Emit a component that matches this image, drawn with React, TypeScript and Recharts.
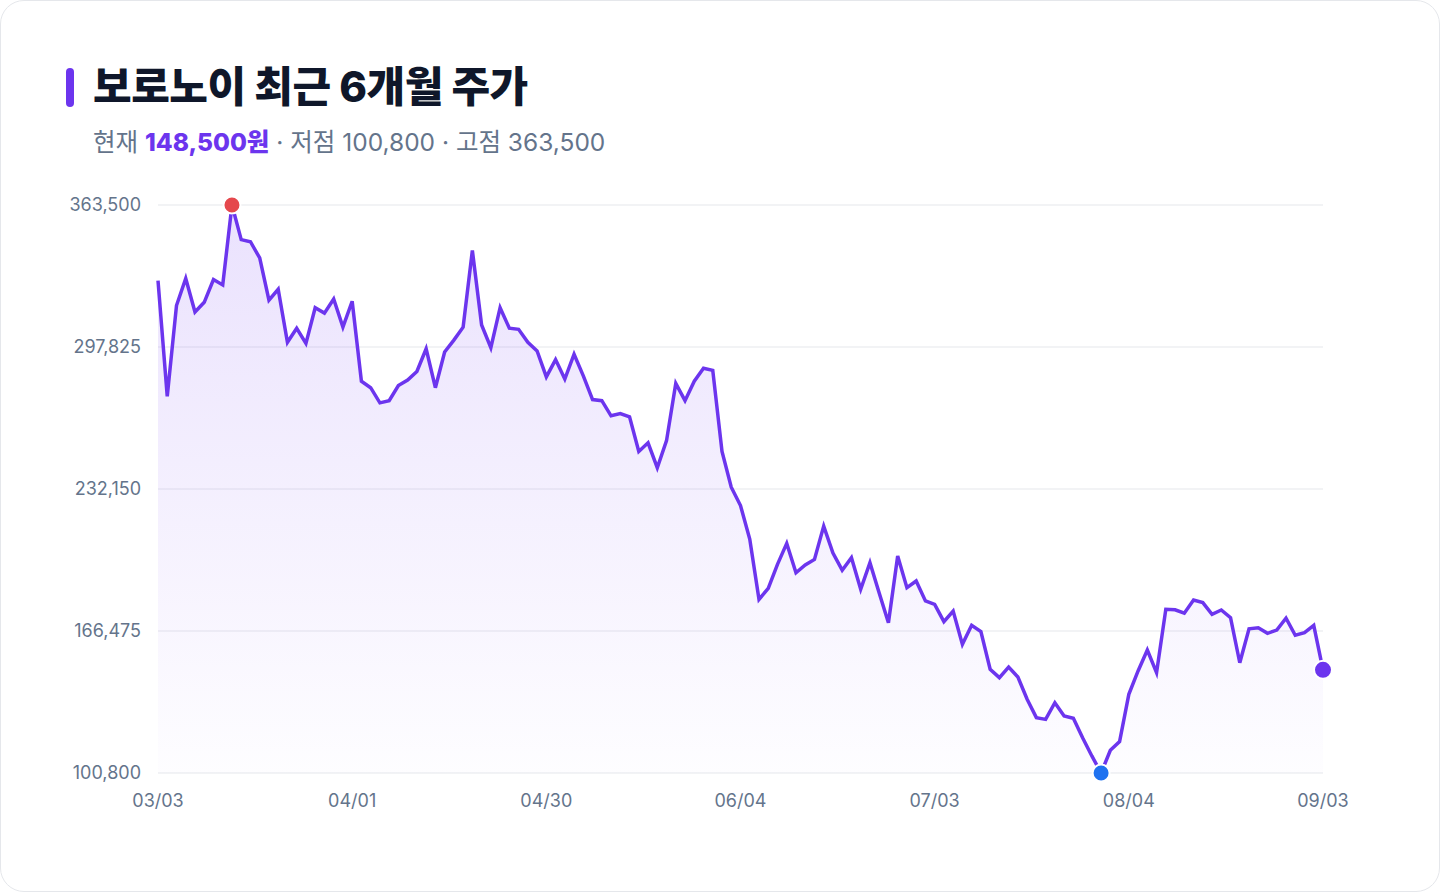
import React from 'react';
import { AreaChart, Area, XAxis, YAxis, CartesianGrid, ReferenceDot } from 'recharts';

const dates = [
  '03/03', '03/04', '03/05', '03/06', '03/07', '03/10', '03/11', '03/12', '03/13', '03/14',
  '03/17', '03/18', '03/19', '03/20', '03/21', '03/24', '03/25', '03/26', '03/27', '03/28',
  '03/31', '04/01', '04/02', '04/03', '04/04', '04/07', '04/08', '04/09', '04/10', '04/11',
  '04/14', '04/15', '04/16', '04/17', '04/18', '04/21', '04/22', '04/23', '04/24', '04/25',
  '04/28', '04/29', '04/30', '05/02', '05/07', '05/08', '05/09', '05/12', '05/13', '05/14',
  '05/15', '05/16', '05/19', '05/20', '05/21', '05/22', '05/23', '05/26', '05/27', '05/28',
  '05/29', '05/30', '06/02', '06/04', '06/05', '06/06', '06/09', '06/10', '06/11', '06/12',
  '06/13', '06/16', '06/17', '06/18', '06/19', '06/20', '06/23', '06/24', '06/25', '06/26',
  '06/27', '06/30', '07/01', '07/02', '07/03', '07/04', '07/07', '07/08', '07/09', '07/10',
  '07/11', '07/14', '07/15', '07/16', '07/18', '07/21', '07/22', '07/23', '07/24', '07/25',
  '07/28', '07/29', '07/30', '07/31', '08/01', '08/04', '08/05', '08/06', '08/07', '08/08',
  '08/11', '08/12', '08/13', '08/14', '08/18', '08/19', '08/20', '08/21', '08/22', '08/25',
  '08/26', '08/27', '08/28', '08/29', '09/01', '09/02', '09/03',
];

const prices = [
  328500, 275000, 317000, 329500, 314000, 318500, 329000, 326500, 363500, 347500,
  346500, 339000, 319500, 324500, 300000, 306500, 299500, 316000, 313500, 320000,
  307000, 319000, 282000, 279000, 272000, 273000, 280000, 282500, 286500, 297000,
  279000, 295500, 301000, 307000, 342500, 308000, 297500, 316000, 306500, 306000,
  300000, 296000, 284000, 292000, 283000, 294500, 284500, 273500, 273000, 266000,
  267000, 265500, 249500, 253500, 242000, 254500, 281000, 273000, 282000, 288000,
  287000, 249500, 233000, 224500, 209000, 181100, 186200, 197300, 207000, 193400,
  197000, 199600, 215000, 202500, 194600, 200400, 185800, 198100, 184100, 170300,
  201200, 186500, 189600, 180400, 178800, 170800, 175700, 160300, 169100, 166200,
  148800, 144900, 149800, 145200, 134900, 126400, 125600, 133300, 127200, 126100,
  117100, 108700, 100800, 111300, 115300, 137200, 148000, 157700, 147200, 176500,
  176300, 174700, 180800, 179600, 174200, 176200, 172600, 151800, 167500, 168000,
  165400, 166900, 172400, 164500, 165700, 169100, 148500,
];

const yTicks = [100800, 166475, 232150, 297825, 363500];

const highIndex = 8;
const lowIndex = 102;
const lastIndex = 126;

const data = dates.map((d, i) => ({ date: d, price: prices[i] }));

const LINE = '#6c35ee';
const TICK = '#64748b';
const FONT = "Inter, 'Noto Sans CJK KR', sans-serif";

const fmt = (v: number) => v.toLocaleString('en-US');

export default function App() {
  return (
    <div
      style={{
        position: 'relative',
        width: 1440,
        height: 892,
        boxSizing: 'border-box',
        border: '1px solid #e5e7eb',
        borderRadius: 24,
        background: '#ffffff',
        fontFamily: FONT,
        overflow: 'hidden',
      }}
    >
      <style>{'body{margin:0;background:#ffffff;}'}</style>
      <div
        style={{
          position: 'absolute',
          left: 65,
          top: 67,
          width: 8,
          height: 39,
          borderRadius: 4,
          background: LINE,
        }}
      />
      <div
        style={{
          position: 'absolute',
          left: 92,
          top: 58,
          fontSize: 42,
          fontWeight: 800,
          color: '#0f172a',
          letterSpacing: -0.5,
          lineHeight: '56px',
          whiteSpace: 'nowrap',
        }}
      >
        보로노이 최근 6개월 주가
      </div>
      <div
        style={{
          position: 'absolute',
          left: 92,
          top: 124,
          fontSize: 24.5,
          color: TICK,
          lineHeight: '34px',
          whiteSpace: 'nowrap',
        }}
      >
        현재 <span style={{ color: LINE, fontWeight: 800 }}>148,500원</span> · 저점 100,800 · 고점 363,500
      </div>
      <div style={{ position: 'absolute', left: 0, top: 0 }}>
        <AreaChart
          width={1440}
          height={892}
          data={data}
          margin={{ top: 204, right: 118, bottom: 90, left: 57 }}
        >
          <defs>
            <linearGradient id="priceFill" x1="0" y1="0" x2="0" y2="1">
              <stop offset="0%" stopColor="#8b5cf6" stopOpacity={0.3} />
              <stop offset="100%" stopColor="#8b5cf6" stopOpacity={0.02} />
            </linearGradient>
          </defs>
          <CartesianGrid vertical={false} stroke="#e5e7eb" strokeWidth={1} />
          <XAxis
            dataKey="date"
            interval={20}
            tickLine={false}
            axisLine={false}
            tickMargin={15}
            height={30}
            tick={{ fill: TICK, fontSize: 18, fontFamily: FONT }}
          />
          <YAxis
            width={100}
            domain={[100800, 363500]}
            ticks={yTicks}
            tickFormatter={fmt}
            tickLine={false}
            axisLine={false}
            tickMargin={11}
            tick={{ fill: TICK, fontSize: 18, fontFamily: FONT }}
          />
          <Area
            type="linear"
            dataKey="price"
            stroke={LINE}
            strokeWidth={3.5}
            strokeLinejoin="miter"
            fill="url(#priceFill)"
            isAnimationActive={false}
            dot={false}
            activeDot={false}
          />
          <ReferenceDot
            x={dates[highIndex]}
            y={prices[highIndex]}
            r={8.5}
            fill="#e5484d"
            stroke="#ffffff"
            strokeWidth={2}
            ifOverflow="visible"
          />
          <ReferenceDot
            x={dates[lowIndex]}
            y={prices[lowIndex]}
            r={8.5}
            fill="#1f72f0"
            stroke="#ffffff"
            strokeWidth={2}
            ifOverflow="visible"
          />
          <ReferenceDot
            x={dates[lastIndex]}
            y={prices[lastIndex]}
            r={9}
            fill={LINE}
            stroke="#ffffff"
            strokeWidth={2}
            ifOverflow="visible"
          />
        </AreaChart>
      </div>
    </div>
  );
}
